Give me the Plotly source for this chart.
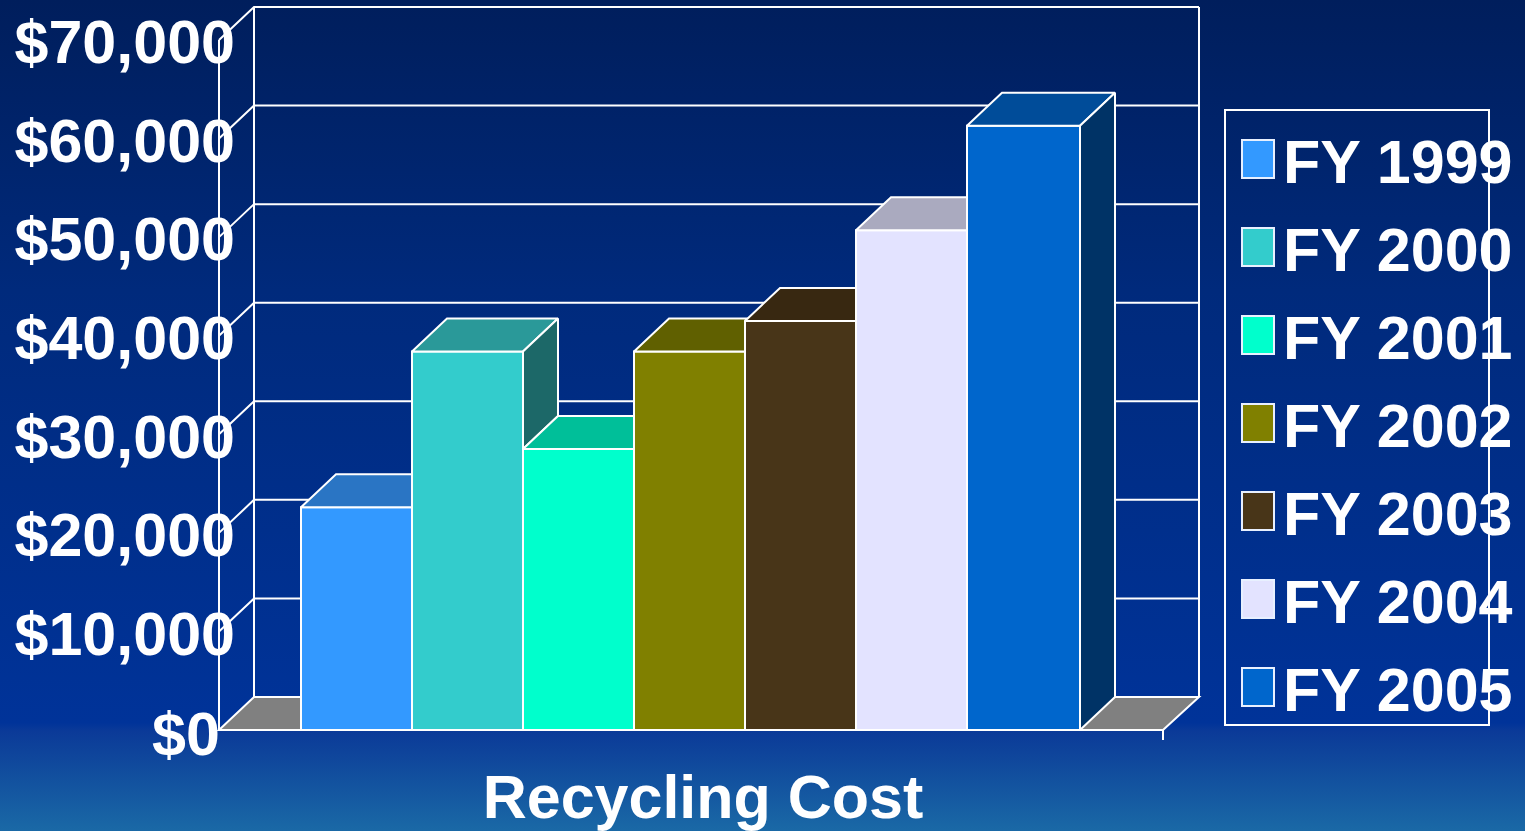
import base64
import plotly.graph_objects as go

# ---- data ----
years = ["FY 1999", "FY 2000", "FY 2001", "FY 2002", "FY 2003", "FY 2004", "FY 2005"]
costs = [22600, 38400, 28500, 38400, 41500, 50700, 61300]
front_colors = ["#3399FF", "#33CCCC", "#00FFCC", "#808000", "#483518", "#E3E3FF", "#0066CC"]
top_colors = ["#2A75C4", "#2A9999", "#00BF99", "#606000", "#382811", "#AAAABF", "#004C99"]
side_colors = ["#1C4D80", "#1C6868", "#00806A", "#404000", "#251B0C", "#717180", "#003366"]
y_ticks = [10000, 20000, 30000, 40000, 50000, 60000, 70000]
y_tick_text = ["$10,000", "$20,000", "$30,000", "$40,000", "$50,000", "$60,000", "$70,000"]
category = "Recycling Cost"

W, H = 1525, 831
FONT = "Liberation Sans, Arial, sans-serif"
WHITE = "#FFFFFF"
LAST_WIDTH = 1.018

# pixel <-> axis calibration of the drawing frame
BAR_PX = 111.0
BAR0_PX = 301.0          # left edge of first bar
ZERO_PX = 730.0
V70_PX = 40.0
DX_PX, DY_PX = 35.0, 33.0
FLOOR_L_PX, FLOOR_R_PX, WALL_R_PX = 219.0, 1163.0, 1199.0
DOM_L, DOM_R, DOM_T, DOM_B = 212.0, 1203.0, 3.0, 746.0


def px2x(p):
    return (p - BAR0_PX) / BAR_PX - 0.5


def px2y(p):
    return (ZERO_PX - p) / (ZERO_PX - V70_PX) * 70000


dx = DX_PX / BAR_PX
dy = DY_PX / (ZERO_PX - V70_PX) * 70000
slope = dy / dx
xL, xR, xW = px2x(FLOOR_L_PX), px2x(FLOOR_R_PX), px2x(WALL_R_PX)
widths = [1.0] * (len(costs) - 1) + [LAST_WIDTH]

# gradient page background
svg = f"""<svg xmlns='http://www.w3.org/2000/svg' width='{W}' height='{H}' preserveAspectRatio='none'>
<defs><linearGradient id='g' x1='0' y1='0' x2='0' y2='1'>
<stop offset='0' stop-color='#001E5C'/>
<stop offset='0.35' stop-color='#002A7C'/>
<stop offset='0.87' stop-color='#003399'/>
<stop offset='0.88' stop-color='#0B3A98'/>
<stop offset='1' stop-color='#1A69A6'/>
</linearGradient></defs><rect width='100%' height='100%' fill='url(#g)'/></svg>"""
bg_uri = "data:image/svg+xml;base64," + base64.b64encode(svg.encode()).decode()

fig = go.Figure()

# front faces
for i, (name, v, c, w) in enumerate(zip(years, costs, front_colors, widths)):
    fig.add_trace(go.Bar(x=[i - 0.5 + w / 2], y=[v], width=w, name=name,
                         marker=dict(color=c, line=dict(color=WHITE, width=2)),
                         showlegend=False, hoverinfo="name+y"))

# top and side faces, derived from the values and hidden where the next bar covers them
for i, v in enumerate(costs):
    left, right = i - 0.5, i - 0.5 + widths[i]
    nxt = costs[i + 1] if i + 1 < len(costs) else 0
    hc = min(max(nxt, v), v + dy)
    top_x = [left, right, right, right + (v + dy - hc) / slope, left + dx, left]
    top_y = [v, v, hc, v + dy, v + dy, v]
    fig.add_trace(go.Scatter(x=top_x, y=top_y, mode="lines", fill="toself", fillcolor=top_colors[i],
                             line=dict(color=WHITE, width=2), hoverinfo="skip", showlegend=False))
    if v > nxt:
        fig.add_trace(go.Scatter(x=[right, right + dx, right + dx, right, right],
                                 y=[nxt, nxt + dy, v + dy, v, nxt],
                                 mode="lines", fill="toself", fillcolor=side_colors[i],
                                 line=dict(color=WHITE, width=2), hoverinfo="skip", showlegend=False))

shapes = []
line = dict(color=WHITE, width=2)
# floor
shapes.append(dict(type="path", layer="below", xref="x", yref="y", fillcolor="#808080", line=line,
                   path=f"M{xL},0 L{xL+dx},{dy} L{xW},{dy} L{xR},0 Z"))
# walls
shapes.append(dict(type="line", layer="below", xref="x", yref="y", x0=xL, x1=xL, y0=0, y1=70000, line=line))
shapes.append(dict(type="line", layer="below", xref="x", yref="y", x0=xL + dx, x1=xL + dx, y0=dy, y1=70000 + dy, line=line))
shapes.append(dict(type="line", layer="below", xref="x", yref="y", x0=xW, x1=xW, y0=dy, y1=70000 + dy, line=line))
# grid
for t in y_ticks:
    shapes.append(dict(type="path", layer="below", xref="x", yref="y", line=line,
                       path=f"M{xL},{t} L{xL+dx},{t+dy} L{xW},{t+dy}"))
# tick at right end of the floor
shapes.append(dict(type="line", layer="below", xref="x", yref="y", x0=xR, x1=xR, y0=0, y1=px2y(740), line=line))


# legend, built by hand because native swatches cannot be this large
def fx(p):
    return p / W


def fy(p):
    return 1 - p / H


shapes.append(dict(type="rect", xref="paper", yref="paper", layer="below", x0=fx(1225), x1=fx(1489), y0=fy(725), y1=fy(110),
                   line=dict(color=WHITE, width=2)))
annotations = []
for i, (name, c) in enumerate(zip(years, front_colors)):
    top = 140 + 88 * i
    shapes.append(dict(type="rect", xref="paper", yref="paper", layer="above", x0=fx(1242), x1=fx(1274), y0=fy(top + 38), y1=fy(top),
                       fillcolor=c, line=dict(color="#E8F0FF", width=2)))
    annotations.append(dict(xref="paper", yref="paper", x=fx(1281), y=fy(top + 22), text=f"<b>{name}</b>", showarrow=False, xanchor="left",
                            yanchor="middle", font=dict(family=FONT, size=61, color=WHITE)))
annotations.append(dict(xref="x", yref="y", x=xL, y=0, text="<b>$0</b>", showarrow=False, xanchor="right", yanchor="middle",
                        xshift=3, yshift=-4, font=dict(family=FONT, size=61, color=WHITE)))

fig.update_layout(
    width=W, height=H, autosize=False,
    margin=dict(l=0, r=0, t=0, b=0, pad=0, autoexpand=False),
    paper_bgcolor="#1A69A6", plot_bgcolor="rgba(0,0,0,0)",
    showlegend=False, barmode="overlay", shapes=shapes, annotations=annotations,
    images=[dict(source=bg_uri, xref="paper", yref="paper", x=0, y=1, sizex=1, sizey=1,
                 sizing="stretch", layer="below", xanchor="left", yanchor="top")],
    xaxis=dict(domain=[DOM_L / W, DOM_R / W], range=[px2x(DOM_L), px2x(DOM_R)], showgrid=False, zeroline=False, showline=False,
               automargin=False, tickmode="array", tickvals=[px2x(703)], ticktext=[f"<b>{category}</b>"], ticks="", ticklabelstandoff=10,
               tickfont=dict(family=FONT, size=61, color=WHITE), fixedrange=True),
    yaxis=dict(domain=[1 - DOM_B / H, 1 - DOM_T / H], range=[px2y(DOM_B), px2y(DOM_T)], showgrid=False, zeroline=False, showline=False,
               automargin=False, tickmode="array", tickvals=y_ticks, ticktext=[f"<b>{t}</b>" for t in y_tick_text], ticks="",
               ticklabelstandoff=-24, ticklabelshift=2,
               tickfont=dict(family=FONT, size=61, color=WHITE), fixedrange=True),
)

fig.write_html("out.html", config=dict(displayModeBar=False),
               post_script="document.body.style.margin='0';document.documentElement.style.overflow='hidden';")
